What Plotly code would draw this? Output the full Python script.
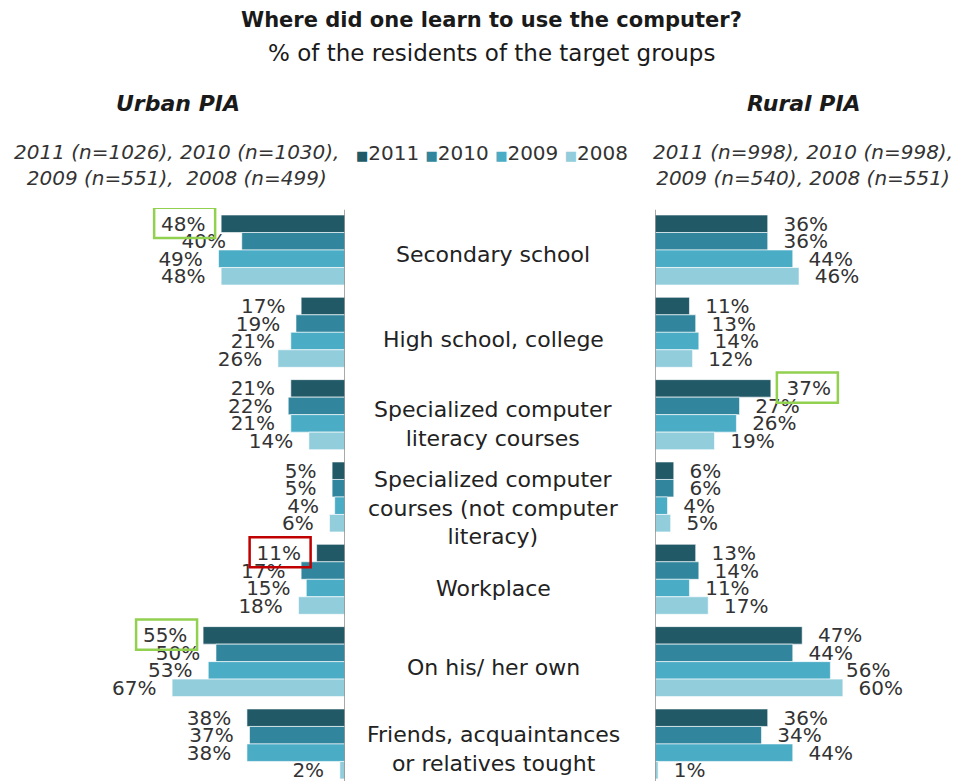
import plotly.graph_objects as go

# ---- data -------------------------------------------------------------
CATEGORIES = [
    "Secondary school",
    "High school, college",
    "Specialized computer<br>literacy courses",
    "Specialized computer<br>courses (not computer<br>literacy)",
    "Workplace",
    "On his/ her own",
    "Friends, acquaintances<br>or relatives tought",
]
YEARS = ["2011", "2010", "2009", "2008"]

URBAN_2011 = [48, 17, 21, 5, 11, 55, 38]
URBAN_2010 = [40, 19, 22, 5, 17, 50, 37]
URBAN_2009 = [49, 21, 21, 4, 15, 53, 38]
URBAN_2008 = [48, 26, 14, 6, 18, 67, 2]

RURAL_2011 = [36, 11, 37, 6, 13, 47, 36]
RURAL_2010 = [36, 13, 27, 6, 14, 44, 34]
RURAL_2009 = [44, 14, 26, 4, 11, 56, 44]
RURAL_2008 = [46, 12, 19, 5, 17, 60, 1]

URBAN = [URBAN_2011, URBAN_2010, URBAN_2009, URBAN_2008]
RURAL = [RURAL_2011, RURAL_2010, RURAL_2009, RURAL_2008]

URBAN_NOTE = "2011 (n=1026), 2010 (n=1030),<br>2009 (n=551),  2008 (n=499)"
RURAL_NOTE = "2011 (n=998), 2010 (n=998),<br>2009 (n=540), 2008 (n=551)"

# highlighted labels: (panel, category index, year index, colour)
HIGHLIGHTS = [
    ("urban", 0, 0, "#92D050"),
    ("rural", 2, 0, "#92D050"),
    ("urban", 4, 0, "#C00000"),
    ("urban", 5, 0, "#92D050"),
]

# ---- styling ------------------------------------------------------------
COLORS = ["#215967", "#31859C", "#4BACC6", "#92CDDC"]
FONT = "DejaVu Sans"
TEXT_COLOR = "#333333"
HEAD_COLOR = "#1a1a1a"
W, H = 960, 781
TOP = 208                       # top of the plotting area (px)
PLOT_H = H - TOP
L_DOMAIN = (0.0, 345 / W)
R_DOMAIN = (655 / W, 1.0)
L_MAX = 133.7                   # left axis extent (%)
R_MAX = 97.4                    # right axis extent (%)
Y_RANGE = [6.45, -0.51]
BARGAP = 0.15
PAD = "\u00a0\u00a0"            # extra room between bar end and its label
LABEL_SHIFT = [-5, -7, -9, -11, -9, -6, -5]   # fine vertical offsets of category labels

def ypaper(px):
    return 1 + (TOP - px) / PLOT_H

fig = go.Figure()
n_cat = len(CATEGORIES)
ids = list(range(n_cat))

for i, yr in enumerate(YEARS):
    common = dict(
        orientation="h",
        marker=dict(color=COLORS[i], line=dict(color="white", width=0.6)),
        textposition="outside",
        textfont=dict(family=FONT, size=20, color=TEXT_COLOR),
        constraintext="none",
        cliponaxis=False,
        name=yr,
        showlegend=False,
        hoverinfo="skip",
    )
    fig.add_bar(y=ids, x=URBAN[i], xaxis="x", yaxis="y",
                texttemplate="%{x}%" + PAD, **common)
    fig.add_bar(y=ids, x=RURAL[i], xaxis="x2", yaxis="y2",
                texttemplate=PAD + "%{x}%", **common)

hidden = dict(showgrid=False, zeroline=False, showticklabels=False, showline=False, ticks="")
fig.update_layout(
    width=W, height=H,
    margin=dict(l=0, r=0, t=TOP, b=0),
    paper_bgcolor="white", plot_bgcolor="white",
    font=dict(family=FONT, color=TEXT_COLOR),
    barmode="group", bargap=BARGAP, bargroupgap=0,
    xaxis=dict(domain=list(L_DOMAIN), range=[L_MAX, 0], anchor="y", **hidden),
    xaxis2=dict(domain=list(R_DOMAIN), range=[0, R_MAX], anchor="y2", **hidden),
    yaxis=dict(range=Y_RANGE, anchor="x", **hidden),
    yaxis2=dict(range=Y_RANGE, anchor="x2", matches="y", **hidden),
)

# vertical base lines for both panels
for xr in ("x", "x2"):
    fig.add_shape(type="line", xref=xr, yref="paper", x0=0, x1=0, y0=0, y1=0.997,
                  line=dict(color="#8C8C8C", width=1.5))

# category labels between panels
for k, cat in enumerate(CATEGORIES):
    fig.add_annotation(text=cat, xref="paper", yref="y", x=493 / W, y=k,
                       yshift=LABEL_SHIFT[k], showarrow=False,
                       xanchor="center", yanchor="middle",
                       font=dict(family=FONT, size=22, color="#222222"))

# highlight boxes around selected value labels
group_w = 1 - BARGAP
bar_w = group_w / len(YEARS)
for panel, k, yi, col in HIGHLIGHTS:
    if panel == "urban":
        v = URBAN[yi][k]
        ppu = (L_DOMAIN[1] - L_DOMAIN[0]) * W / L_MAX
        xr = "x"
    else:
        v = RURAL[yi][k]
        ppu = (R_DOMAIN[1] - R_DOMAIN[0]) * W / R_MAX
        xr = "x2"
    yc = k - group_w / 2 + bar_w * (yi + 0.5) - 0.01
    fig.add_shape(type="rect", xref=xr, yref="y",
                  x0=v + 6 / ppu, x1=v + 67 / ppu,
                  y0=yc - 0.183, y1=yc + 0.183,
                  line=dict(color=col, width=2.5), fillcolor="rgba(0,0,0,0)")

# header texts
def header(text, xpx, ypx, size, color=HEAD_COLOR):
    fig.add_annotation(text=text, xref="paper", yref="paper", x=xpx / W, y=ypaper(ypx),
                       xanchor="center", yanchor="middle", showarrow=False,
                       font=dict(family=FONT, size=size, color=color))

header("<b>Where did one learn to use the computer?</b>", 491, 20, 21)
header("% of the residents of the target groups", 492, 53, 23)
header("<b><i>Urban PIA</i></b>", 178, 104, 22)
header("<b><i>Rural PIA</i></b>", 804, 104, 22)
header("<i>" + URBAN_NOTE + "</i>", 176, 165, 20, TEXT_COLOR)
header("<i>" + RURAL_NOTE + "</i>", 803, 165, 20, TEXT_COLOR)

# legend row
legend_text = " ".join(
    f"<span style='color:{c};font-size:13px'>■</span>{yr}" for c, yr in zip(COLORS, YEARS)
)
header(legend_text, 492, 153, 20, TEXT_COLOR)

fig.write_html("out.html")
